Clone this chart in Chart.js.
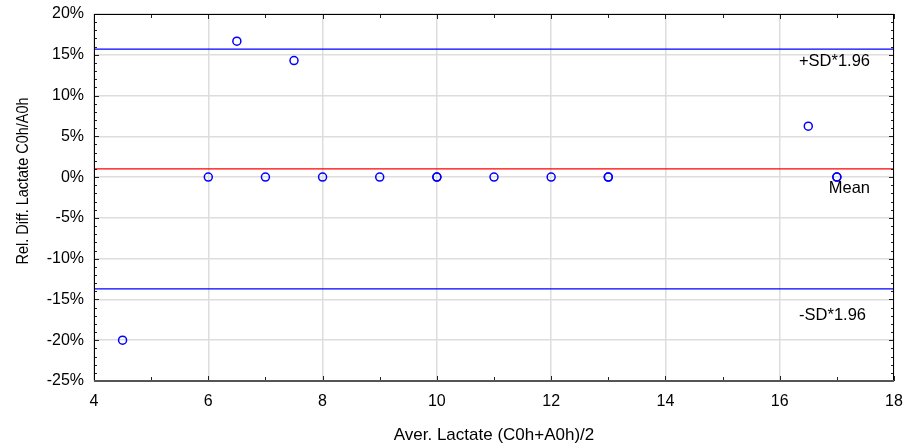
<!DOCTYPE html>
<html>
<head>
<meta charset="utf-8">
<script src="https://cdn.jsdelivr.net/npm/chart.js@4/dist/chart.umd.min.js"></script>
<style>
  html, body { margin: 0; padding: 0; background: #fff; }
  #wrap { width: 915px; height: 447px; }
</style>
</head>
<body>
<div id="wrap"><canvas id="c" width="915" height="447"></canvas></div>
<script>
// ---- data ----
const avgLactate = [4.5, 6, 6.5, 7, 7.5, 8, 9, 10, 10, 11, 12, 13, 13, 16.5, 17, 17];
const relDiff    = [-20, 0, 16.67, 0, 14.29, 0, 0, 0, 0, 0, 0, 0, 0, 6.25, 0, 0];
const meanDiff = 1.0;
const upperLimit = 15.7;
const lowerLimit = -13.7;
const xTickValues = [4, 6, 8, 10, 12, 14, 16, 18];
const yTickValues = [-25, -20, -15, -10, -5, 0, 5, 10, 15, 20];
const refLabels = ['+SD*1.96', 'Mean', '-SD*1.96'];
const xTitle = 'Aver. Lactate (C0h+A0h)/2';
const yTitle = 'Rel. Diff. Lactate C0h/A0h';

const xMin = xTickValues[0], xMax = xTickValues[xTickValues.length - 1];
const yMin = yTickValues[0], yMax = yTickValues[yTickValues.length - 1];

const FONT = 'Liberation Sans, Arial, sans-serif';

const points = avgLactate.map((x, i) => ({ x: x, y: relDiff[i] }));
const hline = v => [{ x: xMin, y: v }, { x: xMax, y: v }];

const framePlugin = {
  id: 'frame',
  afterDraw(chart) {
    const ctx = chart.ctx;
    const a = chart.chartArea;
    const xs = chart.scales.x, ys = chart.scales.y;
    ctx.save();
    // reference-line labels
    ctx.fillStyle = '#000';
    ctx.font = '16.5px ' + FONT;
    ctx.textAlign = 'right';
    ctx.textBaseline = 'top';
    const vals = [upperLimit, meanDiff, lowerLimit];
    const offs = [4, 11, 18];
    const rights = [a.right - 24, a.right - 24, a.right - 28];
    refLabels.forEach((t, i) => {
      ctx.fillText(t, rights[i], ys.getPixelForValue(vals[i]) + offs[i]);
    });
    // axis titles
    ctx.font = '17px ' + FONT;
    ctx.textAlign = 'center';
    ctx.textBaseline = 'middle';
    ctx.fillText(xTitle, (a.left + a.right) / 2 - 0, 435);
    ctx.save();
    ctx.translate(23, 181);
    ctx.rotate(-Math.PI / 2);
    ctx.fillText(yTitle, 0, 0, 167);
    ctx.restore();
    // ticks (inward) on all four sides
    ctx.strokeStyle = '#222';
    ctx.lineWidth = 1;
    ctx.beginPath();
    for (let v = xMin; v <= xMax; v += 1) {
      const px = Math.round(xs.getPixelForValue(v)) + 0.5;
      const len = (v % 2 === 0) ? 5 : 4;
      ctx.moveTo(px, a.bottom); ctx.lineTo(px, a.bottom - len);
      ctx.moveTo(px, a.top); ctx.lineTo(px, a.top + len);
    }
    for (let v = yMin; v <= yMax; v += 1) {
      const py = Math.round(ys.getPixelForValue(v)) + 0.5;
      const len = (v % 5 === 0) ? 5 : 3;
      ctx.moveTo(a.left, py); ctx.lineTo(a.left + len, py);
      ctx.moveTo(a.right, py); ctx.lineTo(a.right - len, py);
    }
    ctx.stroke();
    // frame
    ctx.strokeStyle = '#000';
    ctx.lineWidth = 1;
    ctx.strokeRect(a.left + 0.5, a.top + 0.5, a.right - a.left - 1, a.bottom - a.top);
    ctx.strokeStyle = '#555';
    ctx.lineWidth = 2;
    ctx.beginPath();
    ctx.moveTo(a.left, a.bottom); ctx.lineTo(a.right, a.bottom);
    ctx.stroke();
    ctx.restore();
  }
};

new Chart(document.getElementById('c'), {
  type: 'scatter',
  data: {
    datasets: [
      { type: 'line', data: hline(upperLimit), borderColor: '#0000ff', borderWidth: 1.2, pointRadius: 0, fill: false },
      { type: 'line', data: hline(meanDiff), borderColor: '#ff0000', borderWidth: 1.2, pointRadius: 0, fill: false },
      { type: 'line', data: hline(lowerLimit), borderColor: '#0000ff', borderWidth: 1.2, pointRadius: 0, fill: false },
      { data: points, pointRadius: 4, pointBorderWidth: 1.5, pointBorderColor: '#0000ff',
        pointBackgroundColor: 'rgba(0,0,0,0)', pointHoverRadius: 4 }
    ]
  },
  options: {
    responsive: false,
    animation: false,
    events: [],
    layout: { padding: { top: 14, right: 21, left: 0, bottom: 0 } },
    plugins: { legend: { display: false }, tooltip: { enabled: false } },
    scales: {
      x: {
        type: 'linear', min: xMin, max: xMax,
        afterBuildTicks: s => { s.ticks = xTickValues.map(v => ({ value: v })); },
        afterFit: s => { s.height = 66; s.paddingLeft = 0; s.paddingRight = 0; },
        grid: { color: '#dddddd', lineWidth: 1.5, drawTicks: false },
        border: { display: false },
        ticks: { color: '#000', font: { family: FONT, size: 16 }, padding: 11, maxRotation: 0 },
        title: { display: false }
      },
      y: {
        type: 'linear', min: yMin, max: yMax,
        afterBuildTicks: s => { s.ticks = yTickValues.map(v => ({ value: v })); },
        afterFit: s => { s.width = 94; s.paddingTop = 0; s.paddingBottom = 0; },
        grid: { color: '#dddddd', lineWidth: 1.5, drawTicks: false },
        border: { display: false },
        ticks: { color: '#000', font: { family: FONT, size: 16 }, padding: 10, callback: v => v + '%' },
        title: { display: false }
      }
    }
  },
  plugins: [framePlugin]
});
</script>
</body>
</html>
